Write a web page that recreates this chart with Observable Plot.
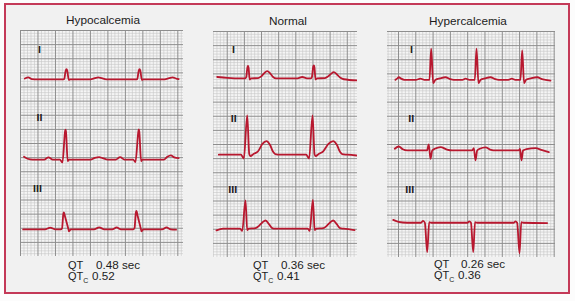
<!DOCTYPE html>
<html><head><meta charset="utf-8">
<script src="https://cdn.jsdelivr.net/npm/d3@7"></script>
<script src="https://cdn.jsdelivr.net/npm/@observablehq/plot@0.6"></script>
<style>
body{margin:0;background:#fff;}
#root{position:relative;width:575px;height:301px;overflow:hidden;background:#fcfcfc;font-family:"Liberation Sans",Arial,sans-serif;color:#222;}
#frame{position:absolute;left:4px;top:3px;width:566px;height:291px;box-sizing:border-box;border:2px solid #c43a58;background:#f1f1f1;}
.panel{position:absolute;line-height:0;}
.title{position:absolute;font-size:11px;line-height:12px;white-space:nowrap;transform:translateX(-50%) scaleX(1.07);color:#1c1c1c;}
.cap{position:absolute;font-size:11px;line-height:10px;height:10px;white-space:nowrap;transform-origin:0 0;color:#1c1c1c;}
.cap.val{transform:scaleX(1.06);}
.cap sub{font-size:7px;vertical-align:-3px;line-height:0;}
</style></head>
<body><div id="root"><div id="frame"></div></div>
<script>
// ---- data (time in s, voltage in mV relative to each lead's baseline) ----
const titles = ["Hypocalcemia", "Normal", "Hypercalcemia"];
const leads = ["I", "II", "III"];
const qtValues = ["0.48 sec", "0.36 sec", "0.26 sec"];
const qtcValues = ["0.52", "0.41", "0.36"];

const hypoI = [[0.05,0.03],[0.09,0.07],[0.13,0.01],[0.20,0],[0.48,0],[0.50,0.01],[0.516,0.30],[0.526,0.36],[0.536,0.30],[0.552,-0.02],[0.57,0],
  [0.80,0],[0.85,0.04],[0.89,0.07],[0.93,0.04],[0.98,0],[1.32,0],[1.336,0.01],[1.352,0.30],[1.362,0.36],[1.372,0.30],[1.388,-0.02],[1.405,0],
  [1.65,0],[1.70,0.04],[1.74,0.07],[1.78,0.03],[1.81,0.01]];
const hypoII = [[0.04,0.10],[0.08,0.03],[0.14,0],[0.27,0],[0.32,0.08],[0.37,0],[0.45,0],[0.48,-0.10],[0.51,1.00],[0.515,1.06],[0.52,1.00],[0.54,-0.06],[0.555,0],
  [0.80,0],[0.85,0.06],[0.90,0.09],[0.94,0.05],[1.00,0],[1.09,0],[1.14,0.09],[1.19,0],[1.29,0],[1.315,-0.09],[1.349,1.00],[1.354,1.07],[1.359,1.00],[1.38,-0.06],[1.395,0],
  [1.64,0],[1.68,0.10],[1.72,0.15],[1.76,0.08],[1.81,0.05]];
const hypoIII = [[0.03,0],[0.28,0],[0.34,0.06],[0.40,0],[0.46,0],[0.475,0.03],[0.49,0.55],[0.496,0.60],[0.51,0.45],[0.545,0.05],[0.555,-0.07],[0.575,0],
  [0.84,0],[0.90,0.07],[0.96,0],[1.05,0],[1.10,0.07],[1.15,0],[1.29,0],[1.305,0.05],[1.32,0.60],[1.327,0.65],[1.34,0.48],[1.375,0.05],[1.385,-0.07],[1.405,0],
  [1.62,0],[1.67,0.07],[1.72,0],[1.78,-0.01]];

const normI = [[-0.117,0.05],[0.0,0.02],[0.15,0],[0.21,0],[0.222,0.05],[0.236,0.40],[0.242,0.44],[0.249,0.38],[0.262,-0.04],[0.28,0],
  [0.36,0.01],[0.40,0.08],[0.43,0.18],[0.466,0.26],[0.50,0.18],[0.535,0.05],[0.57,0],
  [0.82,0],[0.875,0.05],[0.93,0],[0.975,0],[0.988,0.05],[1.003,0.42],[1.01,0.46],[1.017,0.40],[1.03,-0.04],[1.05,0],
  [1.14,0.01],[1.18,0.08],[1.21,0.16],[1.243,0.22],[1.28,0.14],[1.32,0.02],[1.36,-0.03],[1.516,-0.07]];
const normII = [[-0.098,0],[0.16,0],[0.194,-0.14],[0.233,1.39],[0.257,0.02],[0.27,-0.05],[0.31,0.03],[0.36,0.12],[0.41,0.38],[0.458,0.48],[0.50,0.34],[0.535,0.10],[0.56,0.02],[0.62,0],
  [0.92,0],[0.955,-0.14],[0.995,1.39],[1.018,0.02],[1.03,-0.05],[1.07,0.03],[1.12,0.12],[1.18,0.38],[1.236,0.48],[1.28,0.34],[1.315,0.10],[1.34,0.02],[1.40,0],[1.508,-0.03]];
const normIII = [[-0.125,-0.06],[-0.05,0],[0.15,0],[0.175,-0.08],[0.213,1.00],[0.233,-0.05],[0.25,0],[0.33,0.02],[0.37,0.10],[0.41,0.22],[0.447,0.29],[0.49,0.15],[0.525,0.02],[0.56,0],
  [0.94,0],[0.962,-0.08],[0.999,1.02],[1.02,-0.05],[1.04,0],[1.12,0.02],[1.16,0.10],[1.20,0.22],[1.236,0.29],[1.28,0.15],[1.315,0.02],[1.36,0],[1.485,-0.05]];

const hyperI = [[-0.035,0],[-0.01,0.06],[0.004,0.09],[0.03,0.04],[0.07,0],[0.20,0],[0.254,0.04],[0.30,0],[0.358,0],[0.378,1.10],[0.401,-0.12],[0.428,0],[0.48,0.05],[0.543,0.09],[0.60,0.02],[0.64,0],
  [0.74,0],[0.775,0.04],[0.82,0],[0.882,0],[0.902,1.10],[0.925,-0.12],[0.95,0],[1.00,0.05],[1.064,0.09],[1.12,0.02],[1.16,0],
  [1.27,0],[1.31,0.04],[1.35,0],[1.41,0],[1.430,1.04],[1.452,-0.12],[1.475,0],[1.53,0.05],[1.604,0.09],[1.66,0.02],[1.70,0],[1.757,-0.03]];
const hyperII = [[-0.043,0.06],[0.004,0.14],[0.05,0.04],[0.10,0],[0.33,0],[0.350,0.21],[0.370,-0.30],[0.39,0],[0.42,0.06],[0.486,0.12],[0.56,0.03],[0.62,0],
  [0.85,0],[0.871,0.08],[0.89,-0.35],[0.91,0],[0.94,0.06],[1.006,0.11],[1.07,0.02],[1.12,0],
  [1.39,0],[1.405,0.05],[1.422,-0.35],[1.44,0],[1.48,0.05],[1.584,0.08],[1.66,0.01],[1.738,-0.06]];
const hyperIII = [[-0.061,0.10],[0.0,0.03],[0.10,0],[0.26,0],[0.285,0.07],[0.305,0],[0.332,-1.04],[0.355,0.02],[0.38,0],
  [0.80,0],[0.818,0.05],[0.838,0],[0.864,-1.04],[0.885,0.02],[0.91,0],
  [1.335,0],[1.352,0.05],[1.372,0],[1.399,-1.08],[1.42,0.02],[1.445,0],[1.719,-0.01]];

// ---- layout ----
const layout = [
  {traces:[hypoI,hypoII,hypoIII], left:20, top:30, width:163, height:226, x0:0, sPerPx:0.011442,
   base:[6.27,3.43,0.96], labelAt:[[0.217,7.29],[0.217,4.88],[0.195,2.37]],
   titleX:103, titleTop:14, capX:68, capTop:[260,271], valDx:27.5, qtcDx:23.5},
  {traces:[normI,normII,normIII], left:213, top:31, width:144, height:226, x0:-0.160, sPerPx:0.011662,
   base:[6.34,3.64,1.02], labelAt:[[0.073,7.33],[0.077,4.88],[0.065,2.36]],
   titleX:288, titleTop:15, capX:253, capTop:[260,271], valDx:27.5, qtcDx:24},
  {traces:[hyperI,hyperII,hyperIII], left:387, top:31, width:168, height:226, x0:-0.127, sPerPx:0.011561,
   base:[6.29,3.79,1.23], labelAt:[[0.150,7.32],[0.147,4.89],[0.131,2.36]],
   titleX:468, titleTop:15, capX:434, capTop:[259,270], valDx:27, qtcDx:23.5}
];

function steps(lo, hi, step) {
  const out = [];
  for (let i = Math.ceil(lo / step - 1e-9); i * step <= hi + 1e-9; i++) out.push(+(i * step).toFixed(4));
  return out;
}
const isMul = (v, s) => Math.abs(v / s - Math.round(v / s)) < 1e-6;

const root = document.getElementById("root");
layout.forEach((p, k) => {
  const x1 = p.x0 + p.width * p.sPerPx;
  const yDom = [0, 8];
  const xs = steps(p.x0, x1, 0.04), ys = steps(0, 8, 0.1);
  const minorX = xs.filter(v => !isMul(v, 0.2)), majorX = xs.filter(v => isMul(v, 0.2));
  const minorY = ys.filter(v => !isMul(v, 0.5)), majorY = ys.filter(v => isMul(v, 0.5));
  const rows = [];
  p.traces.forEach((tr, li) => tr.forEach(([t, v]) => rows.push({t, v: p.base[li] + v, lead: leads[li]})));
  const labels = leads.map((name, li) => ({name, t: p.labelAt[li][0], v: p.labelAt[li][1]}));
  const chart = Plot.plot({
    width: p.width, height: p.height,
    marginTop: 0, marginRight: 0, marginBottom: 0, marginLeft: 0,
    x: {domain: [p.x0, x1], axis: null},
    y: {domain: yDom, axis: null},
    style: {background: "#f5f5f5"},
    marks: [
      Plot.ruleX(minorX, {stroke: "#c6c6c6", strokeWidth: 0.6}),
      Plot.ruleY(minorY, {stroke: "#c6c6c6", strokeWidth: 0.6}),
      Plot.ruleX(majorX, {stroke: "#8e8e8e", strokeWidth: 1}),
      Plot.ruleY(majorY, {stroke: "#8e8e8e", strokeWidth: 1}),
      Plot.line(rows, {x: "t", y: "v", z: "lead", stroke: "#b8182f", strokeWidth: 1.8, curve: "monotone-x"}),
      Plot.text(labels, {x: "t", y: "v", text: "name", fontWeight: "bold", fontSize: 8, fontFamily: "DejaVu Sans", fill: "#1a1a1a"})
    ]
  });
  const wrap = document.createElement("div");
  wrap.className = "panel";
  wrap.style.left = p.left + "px"; wrap.style.top = p.top + "px";
  wrap.appendChild(chart);
  root.appendChild(wrap);

  const title = document.createElement("div");
  title.className = "title";
  title.style.left = p.titleX + "px"; title.style.top = p.titleTop + "px";
  title.textContent = titles[k];
  root.appendChild(title);

  const addCap = (x, y, html, cls) => {
    const d = document.createElement("div");
    d.className = "cap" + (cls ? " " + cls : ""); d.style.left = x + "px"; d.style.top = y + "px";
    d.innerHTML = html; root.appendChild(d);
  };
  addCap(p.capX, p.capTop[0], "QT");
  addCap(p.capX + p.valDx, p.capTop[0], qtValues[k], "val");
  addCap(p.capX, p.capTop[1], "QT<sub>C</sub>");
  addCap(p.capX + p.qtcDx, p.capTop[1], qtcValues[k], "val");
});
</script>
</body></html>
